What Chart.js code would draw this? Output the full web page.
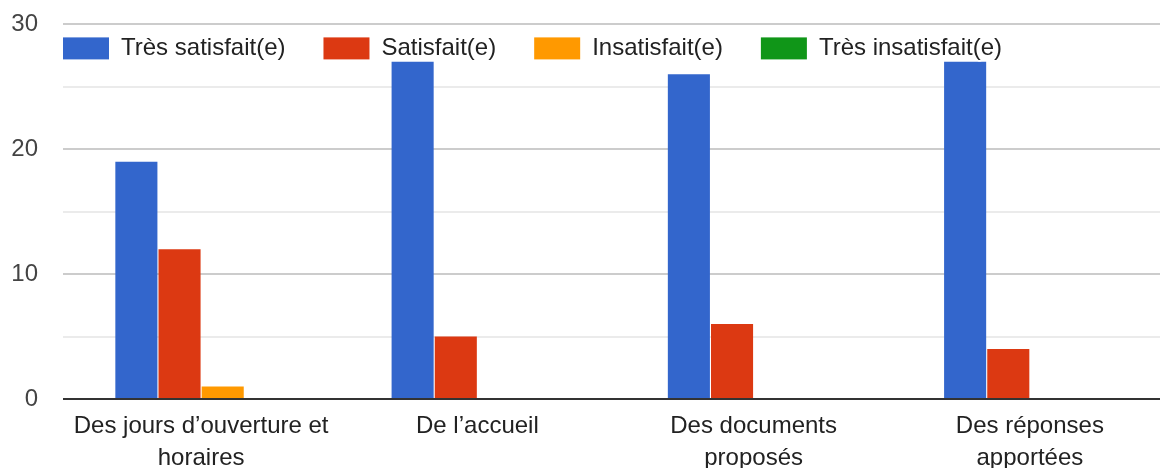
<!DOCTYPE html>
<html>
<head>
<meta charset="utf-8">
<script src="https://cdn.jsdelivr.net/npm/chart.js@4.4.0/dist/chart.umd.min.js"></script>
<style>
  html, body { margin: 0; padding: 0; overflow: hidden; background: #fff; }
  #boite { width: 1168px; height: 492px; margin-top: -15px; position: relative; }
</style>
</head>
<body>
<div id="boite"><canvas id="graficoAvis"></canvas></div>
<script>
// categories (axe X)
var categories = [
    ["Des jours d\u2019ouverture et", "horaires"],
    "De l\u2019accueil",
    ["Des documents", "propos\u00e9s"],
    ["Des r\u00e9ponses", "apport\u00e9es"]
];

// series
var nomsSeries = ["Tr\u00e8s satisfait(e)", "Satisfait(e)", "Insatisfait(e)", "Tr\u00e8s insatisfait(e)"];
var tresSatisfait = [19, 27, 26, 27];
var satisfait = [12, 5, 6, 4];
var insatisfait = [1, 0, 0, 0];
var tresInsatisfait = [0, 0, 0, 0];

// graduations de l'axe Y
var ticksY = [0, 10, 20, 30];

var couleurs = ["#3366cc", "#dc3912", "#ff9900", "#109618"];
var police = "'Liberation Sans', Arial, sans-serif";

// legende dessinee par dessus la zone du graphique (comme Google Forms)
var legendeDedans = {
    id: "legendeDedans",
    afterDatasetsDraw: function (chart) {
        var ctx = chart.ctx;
        var x = chart.chartArea.left;
        var y = chart.chartArea.top + 24;
        ctx.save();
        ctx.font = "24px " + police;
        ctx.textBaseline = "middle";
        chart.data.datasets.forEach(function (ds) {
            ctx.fillStyle = ds.backgroundColor;
            ctx.fillRect(x, y - 11, 46, 22);
            var tx = x + 58;
            ctx.lineWidth = 3;
            ctx.strokeStyle = "#fff";
            ctx.lineJoin = "round";
            ctx.strokeText(ds.label, tx, y);
            ctx.fillStyle = "#222";
            ctx.fillText(ds.label, tx, y);
            x = tx + ctx.measureText(ds.label).width + 38;
        });
        ctx.restore();
    }
};

var donnees = [tresSatisfait, satisfait, insatisfait, tresInsatisfait];
var datasets = [];
for (var i = 0; i < nomsSeries.length; i++) {
    datasets.push({
        label: nomsSeries[i],
        data: donnees[i],
        backgroundColor: couleurs[i],
        categoryPercentage: 0.625,
        barPercentage: 0.975
    });
}

var ctx = document.getElementById("graficoAvis");
new Chart(ctx, {
    type: "bar",
    data: {
        labels: categories,
        datasets: datasets
    },
    plugins: [legendeDedans],
    options: {
        responsive: true,
        maintainAspectRatio: false,
        animation: false,
        devicePixelRatio: 1,
        layout: { padding: { top: 8, left: 0, right: 0, bottom: 0 } },
        plugins: {
            legend: { display: false },
            tooltip: { enabled: false }
        },
        scales: {
            x: {
                grid: { display: false },
                border: { display: false },
                ticks: {
                    color: "#222",
                    padding: 3,
                    maxRotation: 0,
                    autoSkip: false,
                    font: { family: police, size: 24, lineHeight: 1.333 }
                }
            },
            y: {
                min: 0,
                max: 30,
                afterFit: function (scale) { scale.width = 63; },
                border: { display: false },
                grid: {
                    drawTicks: false,
                    lineWidth: 2,
                    color: function (c) {
                        if (c.tick.value === 0) return "#333";
                        return c.tick.value % 10 === 0 ? "#cccccc" : "#ebebeb";
                    }
                },
                ticks: {
                    stepSize: 5,
                    padding: 25,
                    color: "#444",
                    font: { family: police, size: 24 },
                    callback: function (v) {
                        return ticksY.indexOf(v) >= 0 ? v : "";
                    }
                }
            }
        }
    }
});
</script>
</body>
</html>
